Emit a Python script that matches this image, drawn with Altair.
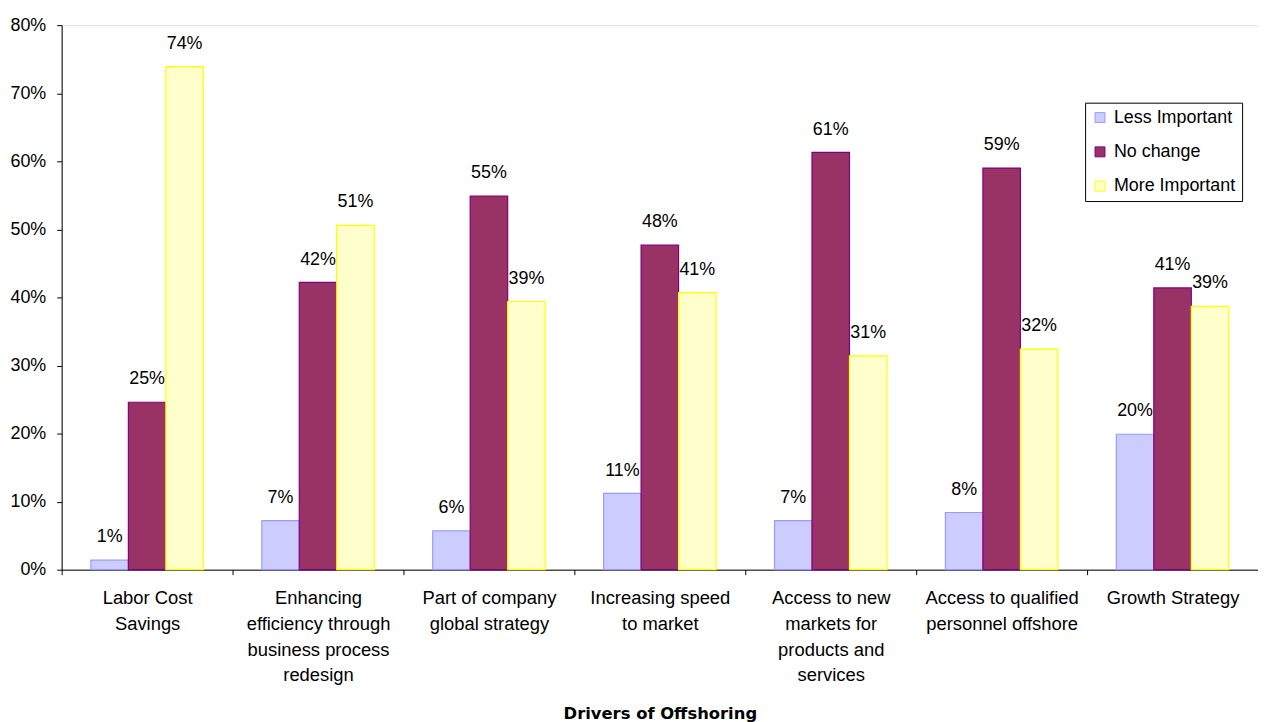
import altair as alt
import pandas as pd

# ---- data ----
CATEGORY_LINES = [
    ["Labor Cost", "Savings"],
    ["Enhancing", "efficiency through", "business process", "redesign"],
    ["Part of company", "global strategy"],
    ["Increasing speed", "to market"],
    ["Access to new", "markets for", "products and", "services"],
    ["Access to qualified", "personnel offshore"],
    ["Growth Strategy"],
]
CATEGORIES = ["|".join(l) for l in CATEGORY_LINES]
SERIES = ["Less Important", "No change", "More Important"]
LESS_IMPORTANT = [0.014, 0.072, 0.057, 0.112, 0.072, 0.084, 0.199]
NO_CHANGE = [0.246, 0.422, 0.549, 0.477, 0.613, 0.590, 0.414]
MORE_IMPORTANT = [0.739, 0.506, 0.394, 0.407, 0.314, 0.324, 0.387]
FILLS = ["#CCCCFF", "#993366", "#FFFFCC"]
STROKES = ["#9999FF", "#800080", "#FFFF00"]
Y_TICKS = [0, 0.1, 0.2, 0.3, 0.4, 0.5, 0.6, 0.7, 0.8]

rows = []
for s, vals in zip(SERIES, [LESS_IMPORTANT, NO_CHANGE, MORE_IMPORTANT]):
    for c, v in zip(CATEGORIES, vals):
        rows.append({"category": c, "series": s, "value": v})
df = pd.DataFrame(rows)

FONT = "Liberation Sans"

x = alt.X(
    "category:N",
    sort=CATEGORIES,
    scale=alt.Scale(paddingInner=0, paddingOuter=0),
    axis=alt.Axis(
        title="Drivers of Offshoring",
        labelExpr="split(datum.label, '|')",
        labelAngle=0,
        labelFontSize=18.5,
        labelLineHeight=26,
        labelPadding=14,
        labelColor="#000000",
        labelFont=FONT,
        tickBand="extent",
        tickSize=5,
        tickColor="#000000",
        domainColor="#000000",
        titleFont="DejaVu Sans",
        titleFontSize=16.5,
        titleFontWeight="bold",
        titleColor="#000000",
        titleY=137,
        titleBaseline="top",
    ),
)
xoff = alt.XOffset(
    "series:N", sort=SERIES, scale=alt.Scale(paddingInner=0, paddingOuter=0.78)
)
y = alt.Y(
    "value:Q",
    scale=alt.Scale(domain=[0, 0.8], nice=False),
    axis=alt.Axis(
        title=None,
        format=".0%",
        values=Y_TICKS,
        grid=False,
        tickSize=5,
        tickColor="#000000",
        domainColor="#000000",
        labelFontSize=18,
        labelFont=FONT,
        labelColor="#000000",
        labelPadding=11,
    ),
)

bars = alt.Chart(df).mark_bar(strokeWidth=1.2).encode(
    x=x,
    xOffset=xoff,
    y=y,
    fill=alt.Fill(
        "series:N",
        sort=SERIES,
        scale=alt.Scale(domain=SERIES, range=FILLS),
        legend=alt.Legend(
            title=None,
            orient="none",
            legendX=1030,
            legendY=78,
            labelFontSize=18,
            labelFont=FONT,
            labelColor="#000000",
            symbolType="square",
            symbolSize=100,
            symbolStrokeWidth=1,
            strokeColor="#000000",
            fillColor="#FFFFFF",
            padding=6,
            rowPadding=16.5,
            labelOffset=5,
        ),
    ),
    stroke=alt.Stroke(
        "series:N",
        sort=SERIES,
        scale=alt.Scale(domain=SERIES, range=STROKES),
        legend=None,
    ),
)

labels = alt.Chart(df).mark_text(
    baseline="bottom", dy=-14, fontSize=18, font=FONT, color="#000000"
).encode(
    x=x,
    xOffset=xoff,
    y=y,
    text=alt.Text("value:Q", format=".0%"),
)

chart = (
    alt.layer(bars, labels)
    .properties(
        width=1204,
        height=548,
        autosize="none",
        padding={"left": 54, "top": 15, "right": 0, "bottom": 151},
    )
    .configure_view(stroke=None)
    .configure(background="#FFFFFF")
)

chart.save("out.html", embed_options={"renderer": "svg", "actions": False})
